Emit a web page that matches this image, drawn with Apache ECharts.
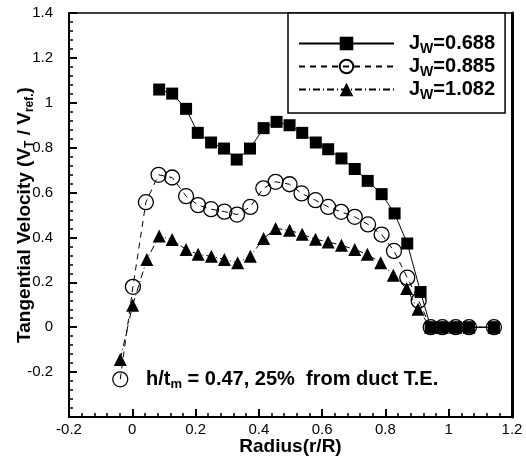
<!DOCTYPE html>
<html>
<head>
<meta charset="utf-8">
<script src="https://cdn.jsdelivr.net/npm/echarts@6/dist/echarts.min.js"></script>
<style>html,body{margin:0;padding:0;background:#fff;}#c{width:526px;height:457px;}</style>
</head>
<body>
<div id="c"></div>
<script>
// ---- data ----
const seriesNames = ['J_W=0.688', 'J_W=0.885', 'J_W=1.082'];

const r1 = [0.085,0.126,0.170,0.207,0.249,0.290,0.330,0.372,0.415,0.456,0.497,0.537,0.580,0.619,0.661,0.703,0.744,0.788,0.829,0.869,0.911,0.943,0.980,1.022,1.064,1.143];
const v1 = [1.059,1.041,0.973,0.866,0.823,0.796,0.747,0.796,0.887,0.915,0.900,0.866,0.823,0.793,0.752,0.705,0.652,0.593,0.507,0.373,0.157,0,0,0,0,0];

const r2 = [-0.038,0.002,0.043,0.083,0.126,0.170,0.208,0.249,0.291,0.331,0.373,0.414,0.453,0.497,0.535,0.579,0.619,0.660,0.703,0.745,0.788,0.827,0.869,0.905,0.943,0.980,1.022,1.064,1.143];
const v2 = [-0.232,0.180,0.557,0.679,0.667,0.584,0.544,0.526,0.515,0.502,0.536,0.619,0.648,0.637,0.596,0.566,0.536,0.514,0.492,0.458,0.413,0.340,0.221,0.118,0,0,0,0,0];

const r3 = [-0.038,0.001,0.046,0.085,0.126,0.170,0.208,0.250,0.291,0.333,0.373,0.415,0.453,0.497,0.537,0.579,0.619,0.661,0.703,0.743,0.785,0.825,0.867,0.903,0.943,0.980,1.022,1.064,1.143];
const v3 = [-0.144,0.098,0.302,0.406,0.391,0.346,0.325,0.316,0.302,0.287,0.316,0.395,0.440,0.432,0.414,0.392,0.380,0.365,0.346,0.325,0.287,0.232,0.172,0.080,0,0,0,0,0];

const xMin = -0.2, xMax = 1.2, xStep = 0.2;
const yMin = -0.4, yMax = 1.4, yStep = 0.2;
const hiddenYLabels = [-0.4];

const xTitle = 'Radius(r/R)';
const yTitle = '{a|Tangential Velocity (V}{s|T}{a| / V}{s|ref.}{a|)}';
const note = '{a|h/t}{s|m}{a| = 0.47, 25%  from duct T.E.}';

// ---- chart ----
const FONT = 'Arial, "Liberation Sans", sans-serif';
const pairs = (xs, ys) => xs.map((x, i) => [x, ys[i]]);
const fmt = v => String(+v.toFixed(1));
function subRich(main, sub, drop, colorKey) {
  const c = {}; c[colorKey] = '#000';
  return {
    a: Object.assign({ fontSize: main, fontWeight: 'bold', fontFamily: FONT, verticalAlign: 'top', lineHeight: main + 1 }, c),
    s: Object.assign({ fontSize: sub, fontWeight: 'bold', fontFamily: FONT, verticalAlign: 'top', lineHeight: sub + 1, padding: [drop, 0, 0, 0] }, c),
    sp: { width: 10 }
  };
}

const axisCommon = {
  axisLine: { onZero: false, lineStyle: { color: '#000', width: 2 } },
  splitLine: { show: false }
};

const chart = echarts.init(document.getElementById('c'), null, { renderer: 'canvas' });
chart.setOption({
  animation: false,
  backgroundColor: '#fff',
  grid: { left: 69, right: 14, top: 13, bottom: 40, containLabel: false, outerBoundsMode: 'none' },
  xAxis: [
    Object.assign({
      type: 'value', min: xMin, max: xMax, interval: xStep,
      axisTick: { inside: true, length: 8, lineStyle: { color: '#000', width: 2 } },
      minorTick: { show: true, splitNumber: 5, length: 4, lineStyle: { color: '#000', width: 1.5 } },
      axisLabel: { color: '#000', fontSize: 15, fontFamily: FONT, margin: 5, formatter: fmt },
      name: xTitle, nameLocation: 'middle', nameGap: 20, nameMoveOverlap: false,
      nameTextStyle: { color: '#000', fontSize: 19, fontWeight: 'bold', fontFamily: FONT }
    }, axisCommon),
    Object.assign({
      type: 'value', min: xMin, max: xMax, interval: xStep, position: 'top',
      axisTick: { show: false }, axisLabel: { show: false }
    }, axisCommon, { axisLine: { onZero: false, lineStyle: { color: '#000', width: 1.5 } } })
  ],
  yAxis: [
    Object.assign({
      type: 'value', min: yMin, max: yMax, interval: yStep,
      axisTick: { inside: true, length: 8, lineStyle: { color: '#000', width: 2 } },
      minorTick: { show: true, splitNumber: 5, length: 4, lineStyle: { color: '#000', width: 1.5 } },
      axisLabel: { color: '#000', fontSize: 15, fontFamily: FONT, margin: 16,
        formatter: v => hiddenYLabels.some(h => Math.abs(h - v) < 1e-9) ? '' : fmt(v) },
      name: yTitle, nameLocation: 'middle', nameGap: 34, nameRotate: 90, nameMoveOverlap: false,
      nameTextStyle: { color: '#000', fontFamily: FONT, rich: subRich(19, 12, 9, 'color') }
    }, axisCommon),
    Object.assign({
      type: 'value', min: yMin, max: yMax, interval: yStep, position: 'right',
      axisTick: { show: false }, axisLabel: { show: false }
    }, axisCommon, { axisLine: { onZero: false, lineStyle: { color: '#000', width: 3 } } })
  ],
  legend: {
    orient: 'vertical', left: 288, top: 13,
    padding: [20, 10, 11, 10], itemGap: 0,
    itemWidth: 95, itemHeight: 17,
    backgroundColor: '#fff', borderColor: '#000', borderWidth: 1.5,
    data: seriesNames,
    formatter: name => '{sp|}{a|J}{s|W}{a|' + name.slice(3) + '}',
    textStyle: { rich: subRich(20, 14, 9, 'color') }
  },
  graphic: [{
    type: 'text', left: 146, top: 369, z: 10,
    style: { text: note, rich: subRich(20, 13, 9, 'fill') }
  }],
  series: [
    {
      name: seriesNames[0], type: 'line', data: pairs(r1, v1), z: 4,
      symbol: 'rect', symbolSize: 12,
      lineStyle: { color: '#000', width: 1 },
      itemStyle: { color: '#000', borderColor: '#000', borderWidth: 0 }
    },
    {
      name: seriesNames[1], type: 'line', data: pairs(r2, v2), z: 3,
      symbol: 'circle', symbolSize: 15,
      lineStyle: { color: '#000', width: 1, type: [6, 5] },
      itemStyle: { color: 'rgba(255,255,255,0)', borderColor: '#000', borderWidth: 1.3 }
    },
    {
      name: seriesNames[2], type: 'line', data: pairs(r3, v3), z: 2,
      symbol: 'triangle', symbolSize: 13,
      lineStyle: { color: '#000', width: 1, type: [7, 3, 1, 3] },
      itemStyle: { color: '#000', borderWidth: 0 }
    }
  ]
});
</script>
</body>
</html>
